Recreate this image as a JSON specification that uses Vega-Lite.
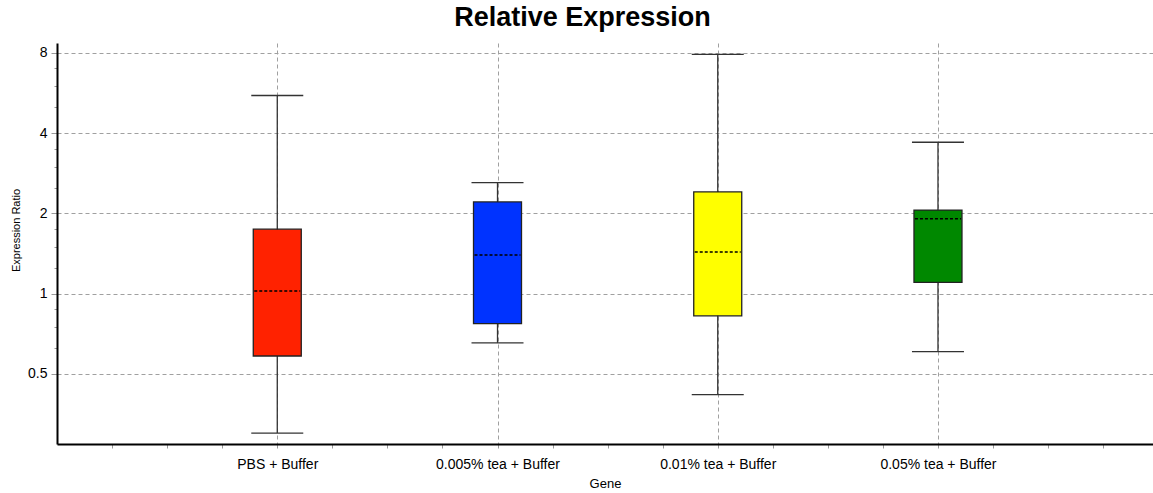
{
  "$schema": "https://vega.github.io/schema/vega-lite/v6.json",
  "width": 1096,
  "height": 401,
  "autosize": {"type": "none"},
  "padding": {"left": 57, "top": 43, "right": 0, "bottom": 49},
  "background": "white",
  "config": {"view": {"stroke": null}, "font": "Liberation Sans"},
  "title": {
    "text": "Relative Expression",
    "fontSize": 27,
    "fontWeight": "bold",
    "font": "Liberation Sans",
    "color": "black",
    "anchor": "middle",
    "dx": -22.5,
    "dy": 26,
    "offset": 10,
    "baseline": "bottom"
  },
  "data": {
    "values": [
      {"Gene": "PBS + Buffer", "low": 0.300, "q1": 0.584, "median": 1.024, "q3": 1.746, "high": 5.54},
      {"Gene": "0.005% tea + Buffer", "low": 0.654, "q1": 0.772, "median": 1.398, "q3": 2.21, "high": 2.61},
      {"Gene": "0.01% tea + Buffer", "low": 0.418, "q1": 0.826, "median": 1.435, "q3": 2.41, "high": 7.91},
      {"Gene": "0.05% tea + Buffer", "low": 0.606, "q1": 1.104, "median": 1.913, "q3": 2.06, "high": 3.70}
    ]
  },
  "encoding": {
    "x": {
      "field": "Gene",
      "type": "nominal",
      "scale": {
        "type": "point",
        "domain": ["m1", "m2", "m3", "PBS + Buffer", "m5", "m6", "m7", "0.005% tea + Buffer", "m9", "m10", "m11", "0.01% tea + Buffer", "m13", "m14", "m15", "0.05% tea + Buffer", "m17", "m18", "m19"],
        "padding": 0.953,
        "align": 0.525,
        "round": false
      },
      "axis": {
        "title": "Gene",
        "titleFontSize": 13,
        "titleFontWeight": "normal",
        "titleColor": "black",
        "titleY": 43,
        "titleBaseline": "alphabetic",
        "labelExpr": "indexof(datum.value, 'Buffer') >= 0 ? datum.value : ''",
        "labelAngle": 0,
        "labelFontSize": 14,
        "labelColor": "black",
        "labelBaseline": "alphabetic",
        "labelPadding": 20,
        "labelOverlap": false,
        "tickSize": 4,
        "tickColor": "#999999",
        "tickWidth": 1,
        "domainColor": "black",
        "domainWidth": 2,
        "grid": true,
        "gridColor": "#a0a0a0",
        "gridDash": [4, 3],
        "gridOpacity": {"condition": {"test": "indexof(datum.value, 'Buffer') >= 0", "value": 1}, "value": 0}
      }
    }
  },
  "layer": [
    {
      "mark": {"type": "rule", "color": "#333333", "strokeWidth": 1.3},
      "encoding": {
        "y": {
          "field": "low",
          "type": "quantitative",
          "scale": {"type": "log", "base": 2, "domain": [0.2731, 8.72], "nice": false, "zero": false},
          "axis": {
            "title": "Expression Ratio",
            "titleFontSize": 11,
            "titleFontWeight": "normal",
            "titleColor": "black",
            "titleX": -41,
            "titleY": 187,
            "titleAngle": 270,
            "titleAlign": "center",
            "titleBaseline": "middle",
            "values": [0.5, 0.625, 0.75, 0.875, 1, 1.25, 1.5, 1.75, 2, 2.5, 3, 3.5, 4, 5, 6, 7, 8],
            "labelExpr": "indexof([0.5, 1, 2, 4, 8], datum.value) >= 0 ? format(datum.value, '~g') : ''",
            "labelFontSize": 14,
            "labelColor": "black",
            "labelPadding": 4,
            "labelOverlap": false,
            "labelBaseline": "middle",
            "tickSize": {"condition": {"test": "indexof([0.5, 1, 2, 4, 8], datum.value) < 0", "value": 3}, "value": 6},
            "tickColor": "#999999",
            "domainColor": "black",
            "domainWidth": 2,
            "grid": true,
            "gridColor": "#a0a0a0",
            "gridDash": [4, 3],
            "gridOpacity": {"condition": {"test": "indexof([0.5, 1, 2, 4, 8], datum.value) >= 0", "value": 1}, "value": 0}
          }
        },
        "y2": {"field": "high"}
      }
    },
    {
      "mark": {"type": "bar", "size": 48, "stroke": "#222222", "strokeWidth": 1.3, "opacity": 1},
      "encoding": {
        "y": {"field": "q1", "type": "quantitative"},
        "y2": {"field": "q3"},
        "fill": {
          "field": "Gene",
          "type": "nominal",
          "scale": {
            "domain": ["PBS + Buffer", "0.005% tea + Buffer", "0.01% tea + Buffer", "0.05% tea + Buffer"],
            "range": ["#ff2200", "#0033ff", "#ffff00", "#008800"]
          },
          "legend": null
        }
      }
    },
    {
      "mark": {"type": "rule", "color": "black", "strokeWidth": 1.5, "strokeDash": [3, 2], "xOffset": -23, "x2Offset": 23},
      "encoding": {
        "y": {"field": "median", "type": "quantitative"},
        "x2": {"field": "Gene"}
      }
    },
    {
      "mark": {"type": "tick", "size": 52, "thickness": 1.3, "color": "#333333", "opacity": 1},
      "encoding": {"y": {"field": "low", "type": "quantitative"}}
    },
    {
      "mark": {"type": "tick", "size": 52, "thickness": 1.3, "color": "#333333", "opacity": 1},
      "encoding": {"y": {"field": "high", "type": "quantitative"}}
    }
  ]
}
